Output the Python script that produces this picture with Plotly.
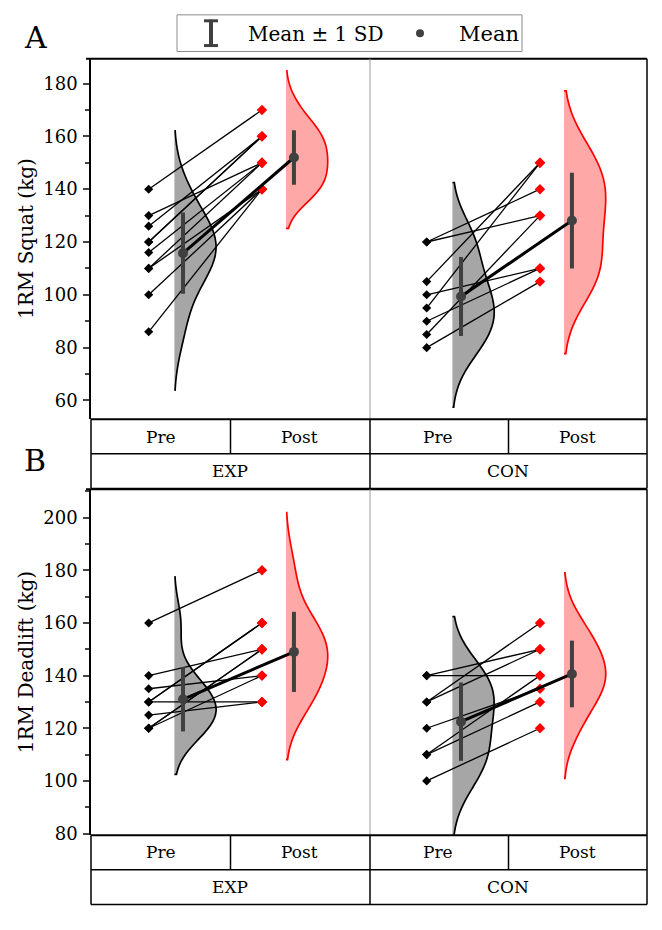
import numpy as np
import plotly.graph_objects as go

# ---------------- data ----------------
groups = ["EXP", "CON"]
phases = ["Pre", "Post"]
y_titles = ["1RM Squat (kg)", "1RM Deadlift (kg)"]
panel_letters = ["A", "B"]

squat_exp_pre = [140, 130, 126, 120, 120, 116, 110, 110, 100, 86]
squat_exp_post = [170, 150, 160, 160, 160, 150, 150, 140, 140, 140]
squat_con_pre = [120, 120, 105, 100, 95, 90, 85, 80]
squat_con_post = [140, 130, 150, 110, 150, 110, 130, 105]

dead_exp_pre = [160, 140, 135, 130, 130, 130, 125, 120, 120, 120]
dead_exp_post = [180, 150, 140, 160, 160, 130, 130, 150, 150, 140]
dead_con_pre = [140, 140, 130, 130, 120, 110, 110, 100]
dead_con_post = [140, 150, 160, 150, 135, 140, 130, 120]

squat_ticks = [60, 80, 100, 120, 140, 160, 180]
dead_ticks = [80, 100, 120, 140, 160, 180, 200]

panels = [
    {"data": [(squat_exp_pre, squat_exp_post), (squat_con_pre, squat_con_post)],
     "range": [52.9, 189.4], "ticks": squat_ticks, "top": 59.3, "bot": 423.3},
    {"data": [(dead_exp_pre, dead_exp_post), (dead_con_pre, dead_con_post)],
     "range": [79.4, 210.8], "ticks": dead_ticks, "top": 494.0, "bot": 843.3},
]

# ---------------- layout helpers ----------------
W, H = 662, 930
XL, XM, XR = 91, 370, 647
ROW = 35


def fx(px):
    return px / W


def fy(py):
    return 1 - py / H


FONT = "DejaVu Serif"
PRE_FILL, PRE_LINE = "#a6a6a6", "#000000"
POST_FILL, POST_LINE = "#ffa8a8", "#ff0000"
MEAN_C = "#404040"

fig = go.Figure()
shapes = []
annotations = []


def seg(x0, y0, x1, y1, color="black", width=1.5):
    shapes.append(dict(type="line", xref="paper", yref="paper",
                       x0=fx(x0), y0=fy(y0), x1=fx(x1), y1=fy(y1),
                       line=dict(color=color, width=width)))


def text(x, y, s, size=17, xanchor="center", angle=0):
    annotations.append(dict(xref="paper", yref="paper", x=fx(x), y=fy(y),
                            text=s, showarrow=False, xanchor=xanchor,
                            yanchor="middle", textangle=angle,
                            font=dict(family=FONT, size=size, color="black")))


def half_violin(vals, x0, fill, line, xa, ya):
    n = len(vals)
    bw = 1.06 * vals.std(ddof=1) * n ** (-0.2)
    span = [vals.min() - 2.15 * bw, vals.max() + 2.15 * bw]
    fig.add_trace(go.Violin(y=vals, x0=x0, side="positive", width=0.6,
                            bandwidth=bw, spanmode="manual", span=span,
                            fillcolor=fill, line=dict(color=line, width=1.7),
                            opacity=1, points=False, box_visible=False,
                            meanline_visible=False, xaxis=xa, yaxis=ya,
                            showlegend=False, hoverinfo="skip"))


layout_axes = {}
for p, panel in enumerate(panels):
    sfx = "" if p == 0 else str(p + 1)
    xa, ya = "x" + sfx, "y" + sfx
    for g, (pre, post) in enumerate(panel["data"]):
        c_pre, c_post = 1 + 2 * g, 2 + 2 * g
        pre = np.array(pre, float)
        post = np.array(post, float)
        half_violin(pre, c_pre + 0.10, PRE_FILL, PRE_LINE, xa, ya)
        half_violin(post, c_post - 0.097, POST_FILL, POST_LINE, xa, ya)
        # individual lines
        x_pre, x_post = c_pre - 0.085, c_post - 0.27
        lx, ly = [], []
        for a, b in zip(pre, post):
            lx += [x_pre, x_post, None]
            ly += [a, b, None]
        fig.add_trace(go.Scatter(x=lx, y=ly, mode="lines", line=dict(color="black", width=1.3),
                                 xaxis=xa, yaxis=ya, showlegend=False, hoverinfo="skip"))
        fig.add_trace(go.Scatter(x=[x_pre] * len(pre), y=pre, mode="markers",
                                 marker=dict(symbol="diamond", size=7, color="black"),
                                 xaxis=xa, yaxis=ya, showlegend=False))
        fig.add_trace(go.Scatter(x=[x_post] * len(post), y=post, mode="markers",
                                 marker=dict(symbol="diamond", size=8, color="#ff0000"),
                                 xaxis=xa, yaxis=ya, showlegend=False))
        # mean line and mean ± SD
        m_pre, m_post = pre.mean(), post.mean()
        s_pre, s_post = pre.std(ddof=1), post.std(ddof=1)
        xm_pre, xm_post = c_pre + 0.162, c_post - 0.04
        fig.add_trace(go.Scatter(x=[xm_pre, xm_post], y=[m_pre, m_post], mode="lines",
                                 line=dict(color="black", width=3),
                                 xaxis=xa, yaxis=ya, showlegend=False, hoverinfo="skip"))
        fig.add_trace(go.Scatter(x=[xm_pre, xm_post], y=[m_pre, m_post], mode="markers",
                                 marker=dict(size=10, color=MEAN_C),
                                 error_y=dict(type="data", array=[s_pre, s_post], width=0,
                                              thickness=4, color=MEAN_C),
                                 xaxis=xa, yaxis=ya, showlegend=False))

    top, bot = panel["top"], panel["bot"]
    layout_axes["xaxis" + sfx] = dict(domain=[fx(XL), fx(XR)], range=[0.5, 4.5],
                                      showticklabels=False, showgrid=False, zeroline=False,
                                      showline=False, ticks="", anchor=ya, fixedrange=True)
    layout_axes["yaxis" + sfx] = dict(domain=[fy(bot), fy(top)], range=panel["range"],
                                      anchor=xa, showgrid=False, zeroline=False,
                                      showline=True, linecolor="black", linewidth=1.5,
                                      ticks="outside", ticklen=6, tickwidth=1.5,
                                      tickvals=panel["ticks"],
                                      minor=dict(ticks="outside", ticklen=4, tickwidth=1.5,
                                                 dtick=10, tick0=0),
                                      tickfont=dict(family=FONT, size=18, color="black"),
                                      ticklabelstandoff=2)

    # frame
    seg(86, top, XR, top, width=2)
    seg(XR, top, XR, bot + 2 * ROW)
    seg(XM, top, XM, bot, color="#9a9a9a", width=1)
    # category table
    r1, r2 = bot + ROW, bot + 2 * ROW
    seg(XL, bot, XR, bot, width=2)
    seg(XL, r1, XR, r1, width=1.5)
    seg(XL, r2, XR, r2, width=1.5)
    seg(XL, bot, XL, r2, width=1.5)
    seg(XM, bot, XM, r2, width=1.5)
    seg((XL + XM) / 2, bot, (XL + XM) / 2, r1, width=1.5)
    seg((XM + XR) / 2, bot, (XM + XR) / 2, r1, width=1.5)
    cw = (XR - XL) / 4
    for g, gname in enumerate(groups):
        for k, ph in enumerate(phases):
            text(XL + cw * (2 * g + k + 0.5), bot + ROW / 2, ph)
        text(XL + cw * (2 * g + 1), bot + 1.5 * ROW, gname)
    text(26, (top + bot) / 2, y_titles[p], size=20, angle=-90)

text(35, 38, panel_letters[0], size=30)
text(35, 465, panel_letters[1], size=30)

# manual legend
shapes.append(dict(type="rect", xref="paper", yref="paper", x0=fx(177), x1=fx(522),
                   y0=fy(15), y1=fy(52), line=dict(color="#8c8c8c", width=1)))
seg(211, 20, 211, 47, color=MEAN_C, width=4)
seg(204, 21, 218, 21, color=MEAN_C, width=3)
seg(204, 46, 218, 46, color=MEAN_C, width=3)
shapes.append(dict(type="circle", xref="paper", yref="paper", x0=fx(416), x1=fx(424),
                   y0=fy(37.5), y1=fy(29.5), fillcolor=MEAN_C, line=dict(color=MEAN_C, width=0)))
text(246, 34, "Mean ± 1 SD", size=20, xanchor="left")
text(457, 34, "Mean", size=21, xanchor="left")

fig.update_layout(width=W, height=H, margin=dict(l=0, r=0, t=0, b=0),
                  paper_bgcolor="white", plot_bgcolor="white",
                  violinmode="overlay", showlegend=False,
                  shapes=shapes, annotations=annotations, **layout_axes)

# remove the browser's default page margin so the figure fills the window exactly
fig.write_html("out.html", config={"displayModeBar": False},
               post_script="document.body.style.margin='0';document.body.style.overflow='hidden';")
